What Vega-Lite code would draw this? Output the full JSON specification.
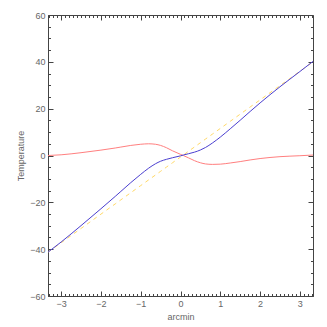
{
  "$schema": "https://vega.github.io/schema/vega-lite/v6.json",
  "autosize": "none",
  "width": 265,
  "height": 281,
  "padding": {"left": 48, "top": 15, "right": 14, "bottom": 31},
  "background": "white",
  "config": {
    "view": {"stroke": "#444", "strokeWidth": 1},
    "axis": {
      "domainColor": "#444",
      "tickColor": "#444",
      "labelColor": "#666",
      "titleColor": "#666",
      "labelFont": "Liberation Sans",
      "titleFont": "Liberation Sans",
      "labelFontSize": 9,
      "titleFontSize": 9,
      "titleFontWeight": "normal",
      "grid": false
    }
  },
  "data": {
    "values": [
      {"x": -3.33, "red": 0.0, "yellow": -41.28, "blue": -41.28},
      {"x": -3.0, "red": 0.3, "yellow": -37.25, "blue": -36.95},
      {"x": -2.5, "red": 1.2, "yellow": -31.15, "blue": -29.95},
      {"x": -2.0, "red": 2.3, "yellow": -25.05, "blue": -22.75},
      {"x": -1.64, "red": 3.2, "yellow": -20.66, "blue": -17.46},
      {"x": -1.5, "red": 3.6, "yellow": -18.95, "blue": -15.35},
      {"x": -1.25, "red": 4.3, "yellow": -15.9, "blue": -11.6},
      {"x": -1.0, "red": 4.8, "yellow": -12.85, "blue": -8.05},
      {"x": -0.8, "red": 5.0, "yellow": -10.41, "blue": -5.41},
      {"x": -0.63, "red": 4.8, "yellow": -8.34, "blue": -3.54},
      {"x": -0.5, "red": 4.3, "yellow": -6.75, "blue": -2.45},
      {"x": -0.35, "red": 3.3, "yellow": -4.92, "blue": -1.62},
      {"x": -0.2, "red": 2.0, "yellow": -3.09, "blue": -0.95},
      {"x": 0.0, "red": 0.5, "yellow": -0.65, "blue": -0.15},
      {"x": 0.07, "red": 0.0, "yellow": 0.2, "blue": 0.2},
      {"x": 0.2, "red": -1.0, "yellow": 1.79, "blue": 0.75},
      {"x": 0.35, "red": -2.2, "yellow": 3.62, "blue": 1.42},
      {"x": 0.5, "red": -3.1, "yellow": 5.45, "blue": 2.35},
      {"x": 0.63, "red": -3.6, "yellow": 7.04, "blue": 3.44},
      {"x": 0.8, "red": -3.8, "yellow": 9.11, "blue": 5.31},
      {"x": 1.0, "red": -3.7, "yellow": 11.55, "blue": 7.85},
      {"x": 1.25, "red": -3.2, "yellow": 14.6, "blue": 11.4},
      {"x": 1.5, "red": -2.6, "yellow": 17.65, "blue": 15.05},
      {"x": 1.75, "red": -1.9, "yellow": 20.7, "blue": 18.8},
      {"x": 2.0, "red": -1.3, "yellow": 23.75, "blue": 22.45},
      {"x": 2.5, "red": -0.5, "yellow": 29.85, "blue": 29.35},
      {"x": 3.0, "red": -0.1, "yellow": 35.95, "blue": 35.85},
      {"x": 3.33, "red": 0.2, "yellow": 39.98, "blue": 40.18}
    ]
  },
  "resolve": {"axis": {"x": "independent", "y": "independent"}},
  "layer": [
    {
      "mark": {"type": "line", "color": "#ff7f7f", "strokeWidth": 1, "interpolate": "monotone", "clip": true},
      "encoding": {
        "x": {
          "field": "x", "type": "quantitative",
          "scale": {"domain": [-3.33, 3.33], "nice": false, "zero": false},
          "axis": {
            "orient": "bottom", "title": "arcmin", "titlePadding": 2,
            "values": [-3.3,-3.2,-3.1,-3,-2.9,-2.8,-2.7,-2.6,-2.5,-2.4,-2.3,-2.2,-2.1,-2,-1.9,-1.8,-1.7,-1.6,-1.5,-1.4,-1.3,-1.2,-1.1,-1,-0.9,-0.8,-0.7,-0.6,-0.5,-0.4,-0.3,-0.2,-0.1,0,0.1,0.2,0.3,0.4,0.5,0.6,0.7,0.8,0.9,1,1.1,1.2,1.3,1.4,1.5,1.6,1.7,1.8,1.9,2,2.1,2.2,2.3,2.4,2.5,2.6,2.7,2.8,2.9,3,3.1,3.2,3.3],
            "tickSize": {"condition": {"test": "abs(datum.value - round(datum.value)) < 0.001", "value": -5}, "value": -2.5},
            "labelExpr": "abs(datum.value - round(datum.value)) < 0.001 ? format(round(datum.value), '~g') : ''",
            "labelOverlap": false,
            "labelPadding": 8,
            "labelFlush": false
          }
        },
        "y": {
          "field": "red", "type": "quantitative",
          "scale": {"domain": [-60, 60], "nice": false},
          "axis": {
            "orient": "left", "title": "Temperature", "titlePadding": 4,
            "values": [-60,-55,-50,-45,-40,-35,-30,-25,-20,-15,-10,-5,0,5,10,15,20,25,30,35,40,45,50,55,60],
            "tickSize": {"condition": {"test": "datum.value % 20 === 0", "value": -5}, "value": -2.5},
            "labelExpr": "datum.value % 20 === 0 ? datum.label : ''",
            "labelOverlap": false,
            "labelPadding": 8,
            "labelFlush": false
          }
        }
      }
    },
    {
      "mark": {"type": "line", "color": "#ffd966", "strokeWidth": 1, "strokeDash": [4, 4], "clip": true},
      "encoding": {
        "x": {
          "field": "x", "type": "quantitative",
          "scale": {"domain": [-3.33, 3.33], "nice": false, "zero": false},
          "axis": {
            "orient": "top", "title": null, "labels": false, "domain": false,
            "values": [-3.3,-3.2,-3.1,-3,-2.9,-2.8,-2.7,-2.6,-2.5,-2.4,-2.3,-2.2,-2.1,-2,-1.9,-1.8,-1.7,-1.6,-1.5,-1.4,-1.3,-1.2,-1.1,-1,-0.9,-0.8,-0.7,-0.6,-0.5,-0.4,-0.3,-0.2,-0.1,0,0.1,0.2,0.3,0.4,0.5,0.6,0.7,0.8,0.9,1,1.1,1.2,1.3,1.4,1.5,1.6,1.7,1.8,1.9,2,2.1,2.2,2.3,2.4,2.5,2.6,2.7,2.8,2.9,3,3.1,3.2,3.3],
            "tickSize": {"condition": {"test": "abs(datum.value - round(datum.value)) < 0.001", "value": -5}, "value": -2.5}
          }
        },
        "y": {
          "field": "yellow", "type": "quantitative",
          "scale": {"domain": [-60, 60], "nice": false},
          "axis": {
            "orient": "right", "title": null, "labels": false, "domain": false,
            "values": [-60,-55,-50,-45,-40,-35,-30,-25,-20,-15,-10,-5,0,5,10,15,20,25,30,35,40,45,50,55,60],
            "tickSize": {"condition": {"test": "datum.value % 20 === 0", "value": -5}, "value": -2.5}
          }
        }
      }
    },
    {
      "mark": {"type": "line", "color": "#4b3fd0", "strokeWidth": 1, "interpolate": "monotone", "clip": true},
      "encoding": {
        "x": {"field": "x", "type": "quantitative", "scale": {"domain": [-3.33, 3.33], "nice": false, "zero": false}, "axis": null},
        "y": {"field": "blue", "type": "quantitative", "scale": {"domain": [-60, 60], "nice": false}, "axis": null}
      }
    }
  ]
}
